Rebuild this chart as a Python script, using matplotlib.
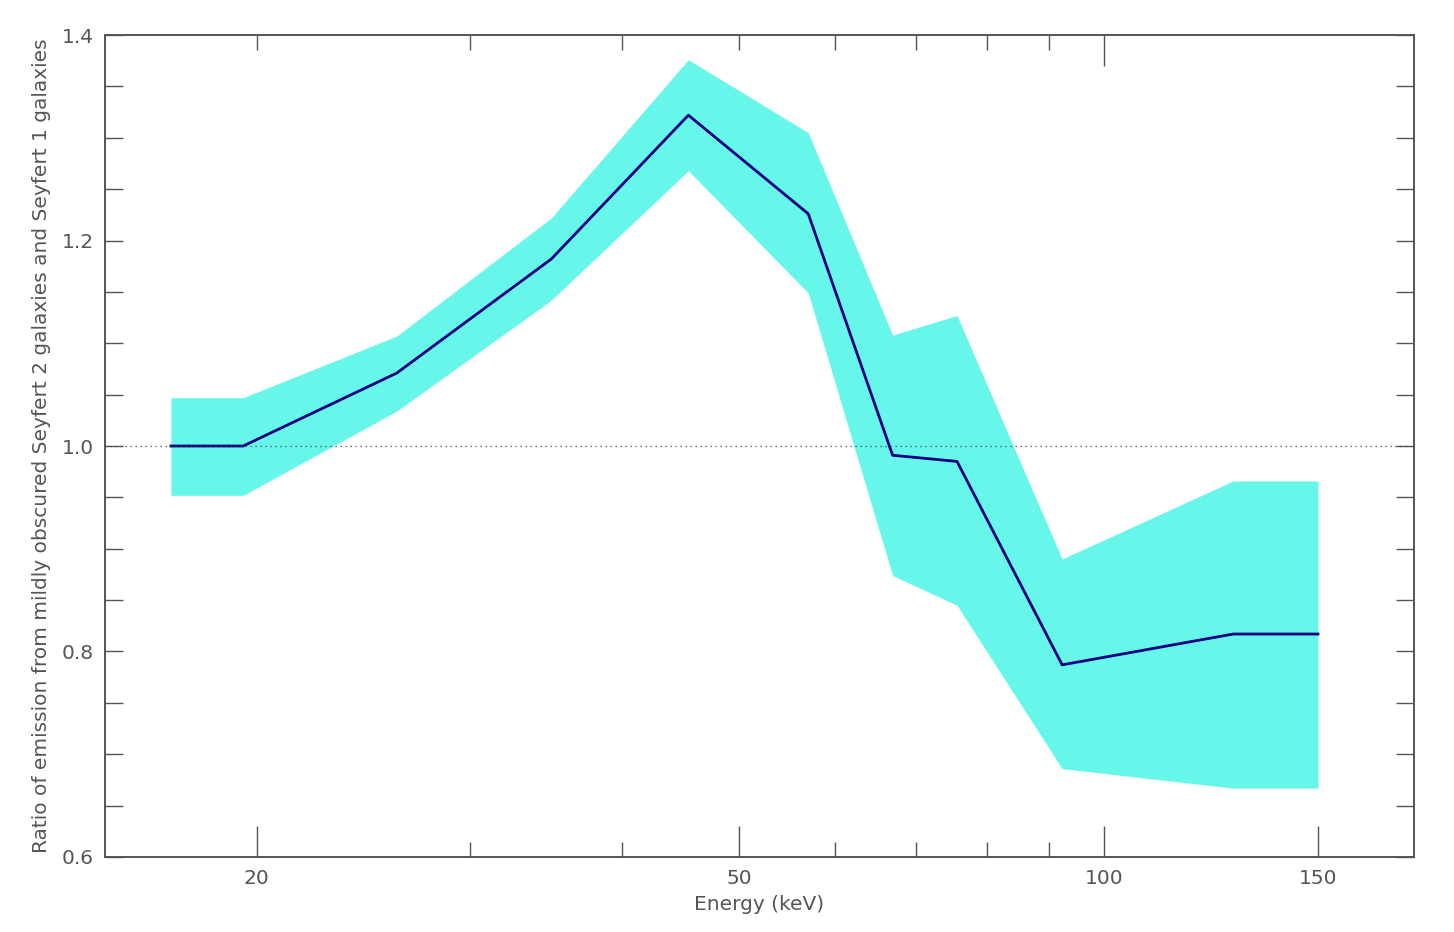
import numpy as np
import matplotlib.pyplot as plt
from matplotlib.ticker import FixedLocator, NullFormatter

# energies (keV) and ratio values
energy = [17.0, 19.5, 26.1, 35.0, 45.4, 57.0, 66.9, 75.6, 92.3, 127.7, 150.0]
ratio = [1.000, 1.000, 1.071, 1.182, 1.322, 1.226, 0.991, 0.985, 0.787, 0.817, 0.817]
upper = [1.047, 1.047, 1.107, 1.222, 1.376, 1.305, 1.108, 1.127, 0.890, 0.966, 0.966]
lower = [0.952, 0.952, 1.034, 1.142, 1.268, 1.149, 0.874, 0.845, 0.686, 0.667, 0.667]

x_major = [20, 50, 100, 150]
x_minor = [30, 40, 60, 70, 80, 90]

axis_col = '#555555'
text_col = '#555555'
plt.rcParams['font.family'] = ['DejaVu Sans']

fig = plt.figure(figsize=(14.54, 9.32), dpi=100)
ax = fig.add_axes([0.0722, 0.0805, 0.9003, 0.8819])

ax.fill_between(energy, lower, upper, color='#66F7EA', linewidth=0)
ax.plot(energy, ratio, color='#000080', linewidth=2)
ax.axhline(1.0, color='#444444', linestyle=(0, (1, 3)), linewidth=0.9)

ax.set_xscale('log')
ax.set_xlim(15, 180)
ax.set_ylim(0.6, 1.4)

ax.xaxis.set_major_locator(FixedLocator(x_major))
ax.xaxis.set_minor_locator(FixedLocator(x_minor))
ax.set_xticklabels([str(v) for v in x_major])
ax.xaxis.set_minor_formatter(NullFormatter())
ax.set_yticks([0.6, 0.8, 1.0, 1.2, 1.4])
ax.set_yticks(np.arange(0.6, 1.41, 0.05), minor=True)

ax.tick_params(axis='x', which='major', direction='in', length=22, width=1,
               color=axis_col, labelcolor=text_col, labelsize=14.5, pad=9)
ax.tick_params(axis='x', which='minor', direction='in', length=11, width=1,
               color=axis_col)
ax.tick_params(axis='y', which='both', direction='in', length=13, width=1,
               color=axis_col, labelcolor=text_col, labelsize=14.5,
               right=True, pad=8)

# top axis with plain log ticks
top = ax.twiny()
top.set_xscale('log')
top.set_xlim(ax.get_xlim())
top.xaxis.set_major_locator(FixedLocator([100]))
top.xaxis.set_minor_locator(FixedLocator([20, 30, 40, 50, 60, 70, 80, 90]))
top.xaxis.set_major_formatter(NullFormatter())
top.xaxis.set_minor_formatter(NullFormatter())
top.tick_params(axis='x', which='major', direction='in', length=22, width=1, color=axis_col)
top.tick_params(axis='x', which='minor', direction='in', length=11, width=1, color=axis_col)

for a in (ax, top):
    for s in a.spines.values():
        s.set_color(axis_col)
        s.set_linewidth(1.2)

ax.set_xlabel('Energy (keV)', fontsize=14.5, color=text_col, labelpad=5)
ax.set_ylabel('Ratio of emission from mildly obscured Seyfert 2 galaxies and Seyfert 1 galaxies',
              fontsize=14.5, color=text_col, labelpad=8)

fig.savefig('out.png', dpi=100)
